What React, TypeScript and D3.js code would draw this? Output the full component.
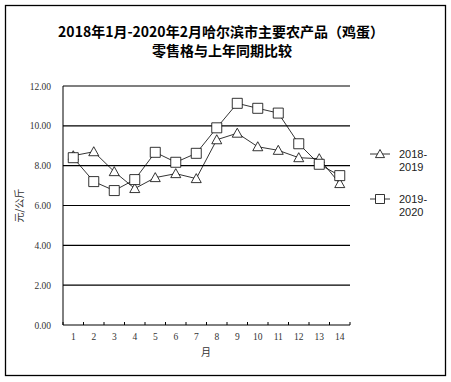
import React from "react";
import * as d3 from "d3";

const months = ["1", "2", "3", "4", "5", "6", "7", "8", "9", "10", "11", "12", "13", "14"];
const series1819 = [8.5, 8.7, 7.7, 6.85, 7.4, 7.6, 7.35, 9.3, 9.63, 8.95, 8.77, 8.4, 8.35, 7.1];
const series1920 = [8.4, 7.2, 6.75, 7.3, 8.67, 8.17, 8.62, 9.9, 11.13, 10.88, 10.64, 9.1, 8.07, 7.5];
const yTicks = [0, 2, 4, 6, 8, 10, 12];
const seriesNames = [["2018-", "2019"], ["2019-", "2020"]];

export default function App() {
  const W = 451, H = 382;
  const x0 = 63, x1 = 350, yTop = 86, yBot = 325;
  const x = d3.scaleBand<string>().domain(months).range([x0, x1]);
  const y = d3.scaleLinear().domain([0, 12]).range([yBot, yTop]);
  const cx = (m: string) => (x(m) ?? 0) + x.bandwidth() / 2;
  const line = d3.line<number>().x((_, i) => cx(months[i])).y((d) => y(d));
  const tri = (px: number, py: number, s = 5) =>
    `M${px},${py - s}L${px + s},${py + s * 0.8}L${px - s},${py + s * 0.8}Z`;
  const sq = (px: number, py: number, s = 5) => `M${px - s},${py - s}h${2 * s}v${2 * s}h${-2 * s}Z`;
  const numFont = "'Liberation Serif', 'DejaVu Serif', serif";
  const cjk = "'Noto Sans CJK SC', sans-serif";
  const boundaries = months.map((m) => x(m) ?? 0).concat([x1]);

  return (
    <svg width={W} height={H} style={{ position: "absolute", left: 0, top: 0 }}>
      <rect x={0} y={0} width={W} height={H} fill="#fff" />
      <rect x={5.5} y={5.5} width={440} height={370} fill="none" stroke="#000" strokeWidth={1.3} />
      <text x={221} y={37} textAnchor="middle" fontFamily={cjk} fontWeight="bold" fontSize={14}>
        2018年1月-2020年2月哈尔滨市主要农产品（鸡蛋）
      </text>
      <text x={222} y={56} textAnchor="middle" fontFamily={cjk} fontWeight="bold" fontSize={14}>
        零售格与上年同期比较
      </text>
      {yTicks.map((t) => (
        <g key={t}>
          {t > 0 && <line x1={x0} x2={x1} y1={y(t)} y2={y(t)} stroke="#000" strokeWidth={1.2} />}
          <text x={51} y={y(t) + 3.5} textAnchor="end" fontFamily={numFont} fontSize={9.5} fill="#333">
            {t.toFixed(2)}
          </text>
        </g>
      ))}
      <line x1={x0} x2={x0} y1={yTop} y2={yBot} stroke="#000" strokeWidth={1} />
      <line x1={x0} x2={x1} y1={yBot} y2={yBot} stroke="#000" strokeWidth={1} />
      {boundaries.map((b, i) => (
        <line key={i} x1={b} x2={b} y1={yBot} y2={yBot - 3} stroke="#000" strokeWidth={1} />
      ))}
      {months.map((m) => (
        <text key={m} x={cx(m)} y={yBot + 15} textAnchor="middle" fontFamily={numFont} fontSize={9.5} fill="#333">
          {m}
        </text>
      ))}
      <text x={206} y={356} textAnchor="middle" fontFamily={cjk} fontSize={10} fill="#333">月</text>
      <text
        transform={`translate(23,${(yTop + yBot) / 2}) rotate(-90)`}
        textAnchor="middle"
        fontFamily={cjk}
        fontSize={10}
        fill="#333"
      >
        元/公斤
      </text>
      <path d={line(series1819) ?? ""} fill="none" stroke="#000" strokeWidth={0.8} />
      <path d={line(series1920) ?? ""} fill="none" stroke="#000" strokeWidth={0.8} />
      {series1819.map((v, i) => (
        <path key={"t" + i} d={tri(cx(months[i]), y(v))} fill="#fff" stroke="#000" strokeWidth={0.8} />
      ))}
      {series1920.map((v, i) => (
        <path key={"s" + i} d={sq(cx(months[i]), y(v))} fill="#fff" stroke="#000" strokeWidth={0.8} />
      ))}
      {seriesNames.map((nm, i) => {
        const ly = i === 0 ? 154 : 199;
        return (
          <g key={i}>
            <line x1={370} x2={390} y1={ly} y2={ly} stroke="#000" strokeWidth={0.8} />
            <path d={i === 0 ? tri(380, ly, 4.5) : sq(380, ly, 4.5)} fill="#fff" stroke="#000" strokeWidth={0.8} />
            <text x={399} y={ly + 4} fontFamily="'Liberation Sans', Arial, sans-serif" fontSize={11} fill="#222">{nm[0]}</text>
            <text x={399} y={ly + 17} fontFamily="'Liberation Sans', Arial, sans-serif" fontSize={11} fill="#222">{nm[1]}</text>
          </g>
        );
      })}
    </svg>
  );
}
